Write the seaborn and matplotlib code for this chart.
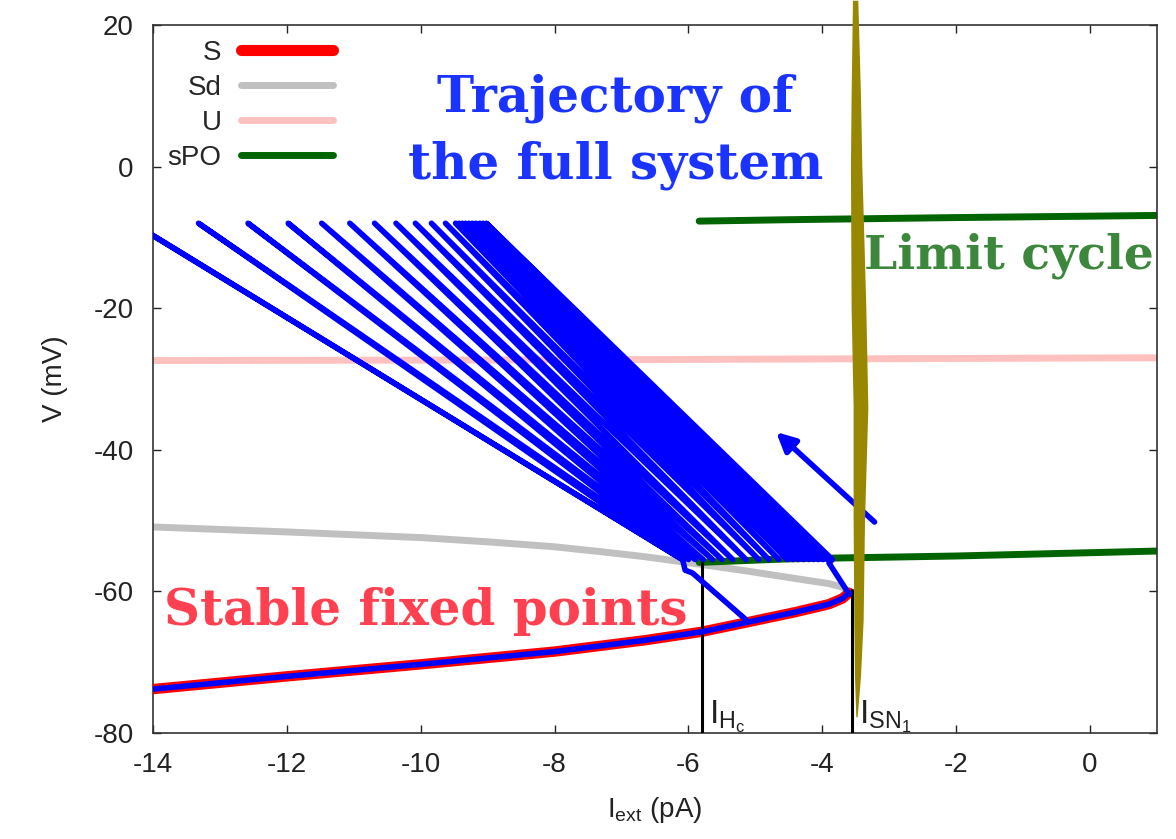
import numpy as np
import pandas as pd
import matplotlib
matplotlib.use("Agg")
import matplotlib.pyplot as plt
import seaborn as sns

# ---- data ----
# stable branch S (lower branch of the saddle-node)
s_x = [-14.0, -12.0, -10.0, -8.0, -6.65, -5.8, -5.14, -4.39, -3.9, -3.7, -3.6]
s_v = [-73.8, -72.0, -70.3, -68.5, -66.9, -65.7, -64.4, -62.9, -61.8, -61.0, -60.2]

# saddle branch Sd
sd_x = [-14.0, -12.0, -10.0, -9.0, -8.0, -7.3, -6.65, -5.8, -5.14, -4.39, -3.9, -3.7, -3.6]
sd_v = [-50.9, -51.6, -52.4, -53.0, -53.7, -54.4, -55.1, -56.2, -57.1, -58.2, -58.9, -59.4, -60.0]

# unstable branch U
u_x = [-14.0, -8.0, -2.0, 1.0]
u_v = [-27.4, -27.3, -27.1, -27.0]

# stable periodic orbit sPO (max and min)
po_x = [-5.84, -4.5, -2.0, 1.0]
po_max = [-7.7, -7.5, -7.2, -6.9]
po_min = [-55.9, -55.4, -55.0, -54.3]

# bifurcation points
I_Hc, V_Hc = -5.80, -56.0
I_SN1, V_SN1 = -3.55, -59.8

# full system trajectory: spikes (upper end x, lower end x)
spike_top, spike_bottom = -8.0, -55.5
spike_up = [-9.02, -9.07, -9.12, -9.18, -9.23, -9.28, -9.33, -9.38, -9.43, -9.48,
            -9.63, -9.84, -10.08, -10.37, -10.69, -11.06, -11.48, -11.98,
            -12.58, -13.32, -14.30]
spike_low = [-3.85, -3.92, -3.99, -4.06, -4.13, -4.20, -4.28, -4.36, -4.44, -4.52,
             -4.65, -4.80, -4.95, -5.14, -5.34, -5.50, -5.64, -5.78,
             -5.90, -6.00, -6.09]
# leaving the stable branch at the saddle-node
exit_x = [-3.6, -3.9]
exit_v = [-60.4, -56.0]
# returning to the stable branch
return_x = [-6.08, -6.05, -5.94, -5.14]
return_v = [-55.8, -57.0, -57.4, -64.0]
# arrow
arrow_tail = (-3.22, -50.2)
arrow_head = (-4.69, -37.5)

# projection of the trajectory across I_SN1 (olive band)
band_v = [23.5, 10.0, 0.0, -20.0, -34.0, -50.0, -64.0, -72.0, -77.7]
band_left = [-3.55, -3.57, -3.58, -3.57, -3.54, -3.54, -3.53, -3.52, -3.50]
band_right = [-3.47, -3.43, -3.41, -3.35, -3.32, -3.37, -3.39, -3.43, -3.48]

# ---- plot ----
sns.set_style("ticks")
plt.rcParams['font.family'] = ['Liberation Sans', 'DejaVu Sans']
plt.rcParams['font.size'] = 20
plt.rcParams['axes.unicode_minus'] = False

fig = plt.figure(figsize=(11.76, 8.39), dpi=100)
ax = fig.add_axes([153 / 1176, 106 / 839, 1004 / 1176, 708 / 839])

sns.lineplot(x=u_x, y=u_v, color='#ffc0c0', lw=5, sort=False, estimator=None, ax=ax, zorder=2)
sns.lineplot(x=sd_x, y=sd_v, color='#c0c0c0', lw=5, sort=False, estimator=None, ax=ax, zorder=2)
sns.lineplot(x=s_x, y=s_v, color='#ff0000', lw=7.5, sort=False, estimator=None, ax=ax, zorder=3)
sns.lineplot(x=po_x, y=po_max, color='#006400', lw=5, sort=False, estimator=None, ax=ax, zorder=2)
sns.lineplot(x=po_x, y=po_min, color='#006400', lw=5, sort=False, estimator=None, ax=ax, zorder=2)

# trajectory: along S, up to the spikes, zig-zag, back to S
traj_x = list(s_x) + exit_x
traj_v = list(s_v) + exit_v
for up, low in zip(spike_up, spike_low):
    traj_x += [low, up]
    traj_v += [spike_bottom, spike_top]
traj_x += [spike_low[-1]] + return_x
traj_v += [spike_bottom] + return_v
traj = pd.DataFrame({'I': traj_x, 'V': traj_v})
sns.lineplot(data=traj, x='I', y='V', color='#0000ff', lw=4.0, sort=False,
             estimator=None, ax=ax, zorder=4,
             solid_joinstyle='round', solid_capstyle='round')
ax.annotate('', xy=arrow_head, xytext=arrow_tail,
            arrowprops=dict(arrowstyle='-|>', color='#0000ff', lw=4.0,
                            mutation_scale=28, shrinkA=0, shrinkB=0), zorder=4)

# bifurcation markers
ax.plot([I_Hc, I_Hc], [-80, V_Hc], color='black', lw=2.2, zorder=3)
ax.plot([I_SN1, I_SN1], [-80, V_SN1], color='black', lw=2.2, zorder=3)
ax.text(I_Hc + 0.1, -78.6, r'I$_{\mathregular{H_c}}$', fontsize=24, ha='left', va='baseline', color='#222222')
ax.text(I_SN1 + 0.1, -78.6, r'I$_{\mathregular{SN_1}}$', fontsize=24, ha='left', va='baseline', color='#222222')

band = ax.fill_betweenx(band_v, band_left, band_right, color='#988700', lw=0, zorder=5)
band.set_clip_on(False)

# annotations
serif = dict(family='DejaVu Serif', weight='bold')
ax.text(-7.09, 9.6, 'Trajectory of', fontsize=36, color='#1a33ff', ha='center', va='center', **serif)
ax.text(-7.09, 0.2, 'the full system', fontsize=36, color='#1a33ff', ha='center', va='center', **serif)
ax.text(-3.38, -12.6, 'Limit cycle', fontsize=34, color='#3c873c', ha='left', va='center', zorder=6, **serif)
ax.text(-13.83, -62.9, 'Stable fixed points', fontsize=36, color='#ff4050', ha='left', va='center', **serif)

# legend
handles = [plt.Line2D([], [], color='#ff0000', lw=8),
           plt.Line2D([], [], color='#c0c0c0', lw=5),
           plt.Line2D([], [], color='#ffc0c0', lw=5),
           plt.Line2D([], [], color='#006400', lw=5)]
ax.legend(handles, ['S', 'Sd', 'U', 'sPO'], loc='upper right', bbox_to_anchor=(0.179, 0.979),
          frameon=False, markerfirst=False, handlelength=3.3, handletextpad=0.7,
          labelspacing=0.32, borderpad=0, borderaxespad=0, fontsize=20)

ax.set_xlim(-14, 1)
ax.set_ylim(-80, 20)
ax.set_xticks([-14, -12, -10, -8, -6, -4, -2, 0])
ax.set_yticks([-80, -60, -40, -20, 0, 20])
ax.tick_params(direction='in', length=6, width=1, top=True, right=True, pad=14, colors='#222222')
for sp in ax.spines.values():
    sp.set_linewidth(1.2)
    sp.set_color('#333333')
ax.set_xlabel(r'I$_{\mathregular{ext}}$ (pA)', fontsize=20, labelpad=12, color='#222222')
ax.set_ylabel('V (mV)', fontsize=20, labelpad=18, color='#222222')

fig.savefig('out.png', dpi=100)
